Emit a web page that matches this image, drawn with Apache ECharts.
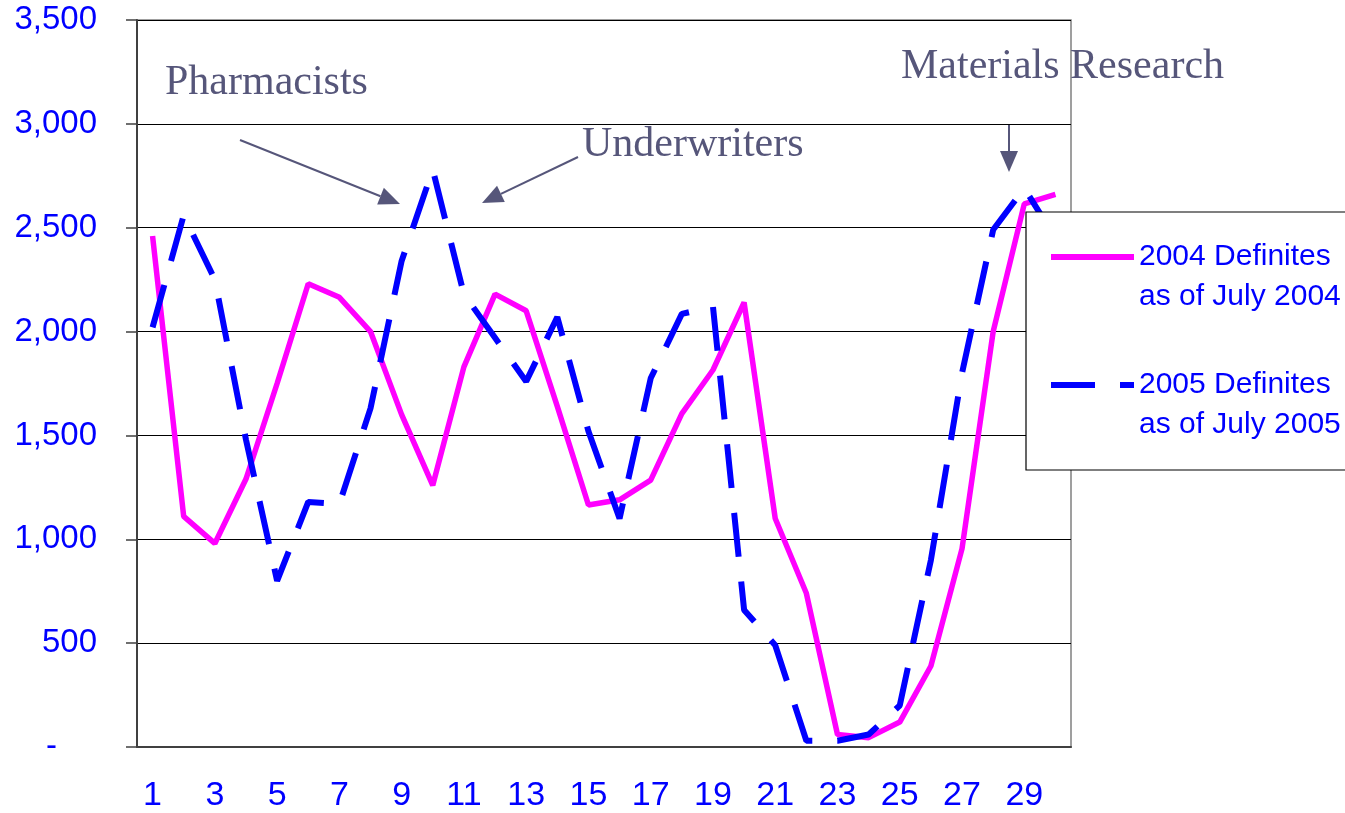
<!DOCTYPE html>
<html>
<head>
<meta charset="utf-8">
<script src="https://cdn.jsdelivr.net/npm/echarts@6.0.0/dist/echarts.min.js"></script>
<style>
  html, body { margin: 0; padding: 0; background: #fff; }
  #chart { width: 1345px; height: 813px; }
</style>
</head>
<body>
<div id="chart"></div>
<script>
// categories 1..30
var weeks = ['1','2','3','4','5','6','7','8','9','10','11','12','13','14','15',
             '16','17','18','19','20','21','22','23','24','25','26','27','28','29','30'];

// 2004 definites (as of July 2004)
var defs2004 = [2460, 1110, 980, 1290, 1750, 2230, 2165, 2000, 1600, 1260,
                1830, 2180, 2100, 1640, 1165, 1190, 1285, 1605, 1815, 2140,
                1100, 740, 60, 45, 120, 390, 955, 2000, 2615, 2660];

// 2005 definites (as of July 2005)
var defs2005 = [2020, 2560, 2250, 1480, 800, 1180, 1170, 1630, 2340, 2780,
                2180, 1970, 1760, 2070, 1520, 1100, 1775, 2085, 2120, 660,
                490, 30, 30, 60, 200, 900, 1800, 2490, 2690, 2450];

var seriesNames = ['2004 Definites\nas of July 2004', '2005 Definites\nas of July 2005'];

var sans = 'Liberation Sans, Arial, sans-serif';
var serif = 'Liberation Serif, Times New Roman, serif';
var noteColor = '#56567a';

// annotation arrow: shaft + triangular head
function arrow(x1, y1, x2, y2) {
  var dx = x2 - x1, dy = y2 - y1;
  var len = Math.sqrt(dx * dx + dy * dy);
  var ux = dx / len, uy = dy / len;
  var hl = 21, hw = 9;
  var bx = x2 - ux * hl, by = y2 - uy * hl;
  return [
    { type: 'line', shape: { x1: x1, y1: y1, x2: bx, y2: by },
      style: { stroke: noteColor, lineWidth: 2 } },
    { type: 'polygon',
      shape: { points: [[x2, y2], [bx - uy * hw, by + ux * hw], [bx + uy * hw, by - ux * hw]] },
      style: { fill: noteColor } }
  ];
}

function note(text, x, y) {
  return { type: 'text', x: x, y: y,
    style: { text: text, font: '42px ' + serif, fill: noteColor, verticalAlign: 'middle' } };
}

var graphics = [
  note('Pharmacists', 165, 83),
  note('Underwriters', 582, 145),
  note('Materials Research', 901, 67)
].concat(arrow(240, 140, 400, 204))
 .concat(arrow(578, 157, 482, 203))
 .concat(arrow(1009, 125, 1009, 172));

var chart = echarts.init(document.getElementById('chart'));

var option = {
  animation: false,
  backgroundColor: '#fff',
  grid: {
    left: 137, right: 274, top: 20, bottom: 66,
    outerBoundsMode: 'none',
    show: true, borderColor: '#808080', borderWidth: 1.5
  },
  legend: {
    orient: 'vertical',
    left: 1026, top: 212,
    backgroundColor: '#fff',
    borderColor: '#000', borderWidth: 1.2,
    padding: [-15, 60, 25, 22],
    itemWidth: 83, itemHeight: 2, itemGap: 8,
    lineStyle: { width: 6 },
    itemStyle: { opacity: 0 },
    // leading blank line keeps the icon level with the first text line
    formatter: function (name) { return '\n' + name; },
    textStyle: { fontFamily: sans, fontSize: 30, color: '#0000ff', lineHeight: 40 },
    data: seriesNames
  },
  xAxis: {
    type: 'category',
    data: weeks,
    boundaryGap: true,
    axisLine: { lineStyle: { color: '#404040', width: 2 } },
    axisTick: { interval: 0, length: 10, lineStyle: { color: '#404040', width: 1.5 } },
    axisLabel: { interval: 1, margin: 32, fontFamily: sans, fontSize: 34, color: '#0000ff' },
    splitLine: { show: false }
  },
  yAxis: {
    type: 'value',
    min: 0, max: 3500, interval: 500,
    axisLine: { show: true, lineStyle: { color: '#404040', width: 2 } },
    axisTick: { show: true, length: 11, lineStyle: { color: '#404040', width: 1.5 } },
    axisLabel: {
      margin: 40, fontFamily: sans, fontSize: 33, color: '#0000ff',
      formatter: function (v) {
        return v === 0 ? '{d|-}' : v.toLocaleString('en-US');
      },
      rich: { d: { fontFamily: sans, fontSize: 33, color: '#0000ff', padding: [0, 40, 0, 0] } }
    },
    splitLine: { lineStyle: { color: '#000', width: 1 } }
  },
  series: [
    {
      name: seriesNames[0],
      type: 'line',
      data: defs2004,
      symbol: 'none',
      lineStyle: { color: '#ff00ff', width: 5.5 },
      itemStyle: { color: '#ff00ff' }
    },
    {
      name: seriesNames[1],
      type: 'line',
      data: defs2005,
      symbol: 'none',
      lineStyle: { color: '#0000ff', width: 6, type: [44, 25] },
      itemStyle: { color: '#0000ff' }
    }
  ],
  graphic: graphics
};

chart.setOption(option);
</script>
</body>
</html>
